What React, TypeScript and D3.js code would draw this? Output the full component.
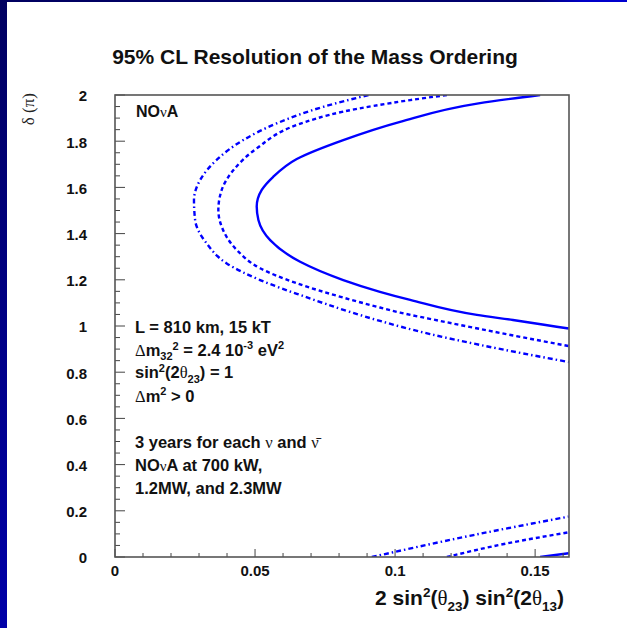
import React from 'react';
import * as d3 from 'd3';

// contour points: [2 sin^2(th23) sin^2(2th13), delta/pi]
const solidUpper: [number, number][] = [
  [0.1518, 2.0], [0.1298, 1.964], [0.1018, 1.884], [0.0815, 1.805], [0.0649, 1.723],
  [0.0565, 1.646], [0.0524, 1.589], [0.0506, 1.517], [0.0512, 1.459], [0.0554, 1.372],
  [0.0661, 1.278], [0.0815, 1.199], [0.0946, 1.148], [0.1054, 1.113], [0.1292, 1.048],
  [0.1421, 1.026], [0.1577, 0.997], [0.162, 0.989],
];
const solidLower: [number, number][] = [[0.1518, 0], [0.162, 0.016]];

const dashedUpper: [number, number][] = [
  [0.1185, 2.0], [0.1054, 1.978], [0.0815, 1.928], [0.0649, 1.87], [0.0506, 1.769],
  [0.0423, 1.675], [0.0381, 1.589], [0.0369, 1.502], [0.0381, 1.43], [0.0435, 1.329],
  [0.0518, 1.25], [0.0649, 1.185], [0.0815, 1.123], [0.0946, 1.08], [0.1018, 1.058],
  [0.1161, 1.022], [0.1304, 0.987], [0.162, 0.913],
];
const dashedLower: [number, number][] = [[0.1185, 0], [0.14, 0.059], [0.162, 0.107]];

const dashDotUpper: [number, number][] = [
  [0.0905, 2.0], [0.0744, 1.949], [0.0577, 1.877], [0.0458, 1.805], [0.0363, 1.719],
  [0.0304, 1.632], [0.0282, 1.545], [0.0286, 1.459], [0.0327, 1.358], [0.0399, 1.271],
  [0.0518, 1.199], [0.0671, 1.13], [0.0839, 1.061], [0.0946, 1.022], [0.1125, 0.965],
  [0.1304, 0.918], [0.162, 0.844],
];
const dashDotLower: [number, number][] = [[0.0917, 0], [0.128, 0.095], [0.162, 0.175]];

const xTickLabels = [0, 0.05, 0.1, 0.15];
const yTickLabels = [0, 0.2, 0.4, 0.6, 0.8, 1, 1.2, 1.4, 1.6, 1.8, 2];

const W = 627;
const H = 628;
const frame = { left: 115, right: 569, top: 95, bottom: 557 };
const blue = '#0000ff';
const sans = '"Liberation Sans", Arial, Helvetica, sans-serif';
const greek = '"Liberation Serif", "DejaVu Serif", serif';

export default function App() {
  const x = d3.scaleLinear().domain([0, 0.1621]).range([frame.left, frame.right]);
  const y = d3.scaleLinear().domain([0, 2]).range([frame.bottom, frame.top]);

  const line = d3.line<[number, number]>()
    .x(d => x(d[0]))
    .y(d => y(d[1]))
    .curve(d3.curveMonotoneY);

  const xMinor = d3.range(0, 0.1621, 0.01);
  const yMinor = d3.range(0, 2.001, 0.05);

  const curves = [
    { pts: solidUpper, dash: 'none' },
    { pts: solidLower, dash: 'none' },
    { pts: dashedUpper, dash: '4,3' },
    { pts: dashedLower, dash: '4,3' },
    { pts: dashDotUpper, dash: '5,3,1.5,3' },
    { pts: dashDotLower, dash: '5,3,1.5,3' },
  ];

  const g = { fontFamily: greek, fontWeight: 'normal' as const };
  const notes = [
    { yy: 332.5, el: <>L = 810 km, 15 kT</> },
    {
      yy: 356,
      el: <><tspan {...g}>Δ</tspan>m<tspan fontSize="11" dy="3.5">32</tspan><tspan fontSize="11" dy="-10">2</tspan><tspan dy="6.5"> = 2.4 10</tspan><tspan fontSize="11" dy="-7">-3</tspan><tspan dy="7"> eV</tspan><tspan fontSize="11" dy="-7">2</tspan></>,
    },
    {
      yy: 378,
      el: <>sin<tspan fontSize="11" dy="-6.5">2</tspan><tspan dy="6.5">(2</tspan><tspan {...g}>θ</tspan><tspan fontSize="11" dy="5">23</tspan><tspan dy="-5">) = 1</tspan></>,
    },
    {
      yy: 401.5,
      el: <><tspan {...g}>Δ</tspan>m<tspan fontSize="11" dy="-7">2</tspan><tspan dy="7"> &gt; 0</tspan></>,
    },
    {
      yy: 447.5,
      el: <>3 years for each <tspan {...g}>ν</tspan> and <tspan {...g}>{'ν\u0304'}</tspan></>,
    },
    { yy: 470.5, el: <>NO<tspan {...g} fontSize="15">ν</tspan>A at 700 kW,</> },
    { yy: 494, el: <>1.2MW, and 2.3MW</> },
  ];

  return (
    <svg width={W} height={H} style={{ position: 'fixed', left: 0, top: 0 }} fontFamily={sans}>
      <defs>
        <linearGradient id="side" x1="0" y1="0" x2="0" y2="1">
          <stop offset="0" stopColor="#000060" />
          <stop offset="1" stopColor="#0000a8" />
        </linearGradient>
        <linearGradient id="topband" x1="0" y1="0" x2="1" y2="0">
          <stop offset="0" stopColor="#000060" />
          <stop offset="0.85" stopColor="#000070" />
          <stop offset="0.93" stopColor="#0000c8" />
          <stop offset="1" stopColor="#0000d0" />
        </linearGradient>
        <clipPath id="plotclip">
          <rect x={frame.left} y={frame.top} width={frame.right - frame.left} height={frame.bottom - frame.top} />
        </clipPath>
      </defs>

      <rect x={0} y={0} width={W} height={H} fill="#ffffff" />
      <rect x={0} y={0} width={7} height={H} fill="url(#side)" />
      <rect x={0} y={0} width={W} height={2} fill="url(#topband)" />

      <text x={315} y={64} textAnchor="middle" fontSize="21" fontWeight="bold" fill="#111">
        95% CL Resolution of the Mass Ordering
      </text>

      <g clipPath="url(#plotclip)">
        {curves.map((c, i) => (
          <path key={i} d={line(c.pts) || ''} fill="none" stroke={blue} strokeWidth={2.4}
            strokeDasharray={c.dash} />
        ))}
      </g>

      {/* ticks */}
      {yMinor.map((v, i) => {
        const major = i % 4 === 0;
        return <line key={'yt' + i} x1={frame.left} x2={frame.left + (major ? 10 : 5)}
          y1={y(v)} y2={y(v)} stroke="#444" strokeWidth={1} />;
      })}
      {xMinor.map((v, i) => {
        const major = i % 5 === 0;
        return <line key={'xt' + i} x1={x(v)} x2={x(v)} y1={frame.bottom}
          y2={frame.bottom - (major ? 8 : 4)} stroke="#444" strokeWidth={1} />;
      })}

      <rect x={frame.left} y={frame.top} width={frame.right - frame.left} height={frame.bottom - frame.top}
        fill="none" stroke="#555" strokeWidth={1.6} />

      {yTickLabels.map(v => (
        <text key={'yl' + v} x={87} y={y(v) + 6.4} textAnchor="end" fontSize="15" fontWeight="bold" fill="#111">
          {d3.format('~g')(v)}
        </text>
      ))}
      {xTickLabels.map(v => (
        <text key={'xl' + v} x={x(v)} y={576} textAnchor="middle" fontSize="15" fontWeight="bold" fill="#111">
          {d3.format('~g')(v)}
        </text>
      ))}

      {/* axis titles */}
      <text x={564} y={605} textAnchor="end" fontSize="21" fontWeight="bold" fill="#111">
        2 sin<tspan fontSize="13.5" dy="-8">2</tspan><tspan dy="8">(</tspan><tspan {...g}>θ</tspan><tspan fontSize="13.5" dy="6">23</tspan><tspan dy="-6">) sin</tspan><tspan fontSize="13.5" dy="-8">2</tspan><tspan dy="8">(2</tspan><tspan {...g}>θ</tspan><tspan fontSize="13.5" dy="6">13</tspan><tspan dy="-6">)</tspan>
      </text>
      <text transform="translate(34,93) rotate(-90)" textAnchor="end" fontSize="17" fontFamily={greek} fill="#222">
        δ (π)
      </text>

      {/* annotations */}
      <text x={136} y={117} fontSize="16" fontWeight="bold" fill="#111">
        NO<tspan {...g} fontSize="15">ν</tspan>A
      </text>
      {notes.map((n, i) => (
        <text key={'n' + i} x={135} y={n.yy} fontSize="16.5" fontWeight="bold" fill="#111">{n.el}</text>
      ))}
    </svg>
  );
}
